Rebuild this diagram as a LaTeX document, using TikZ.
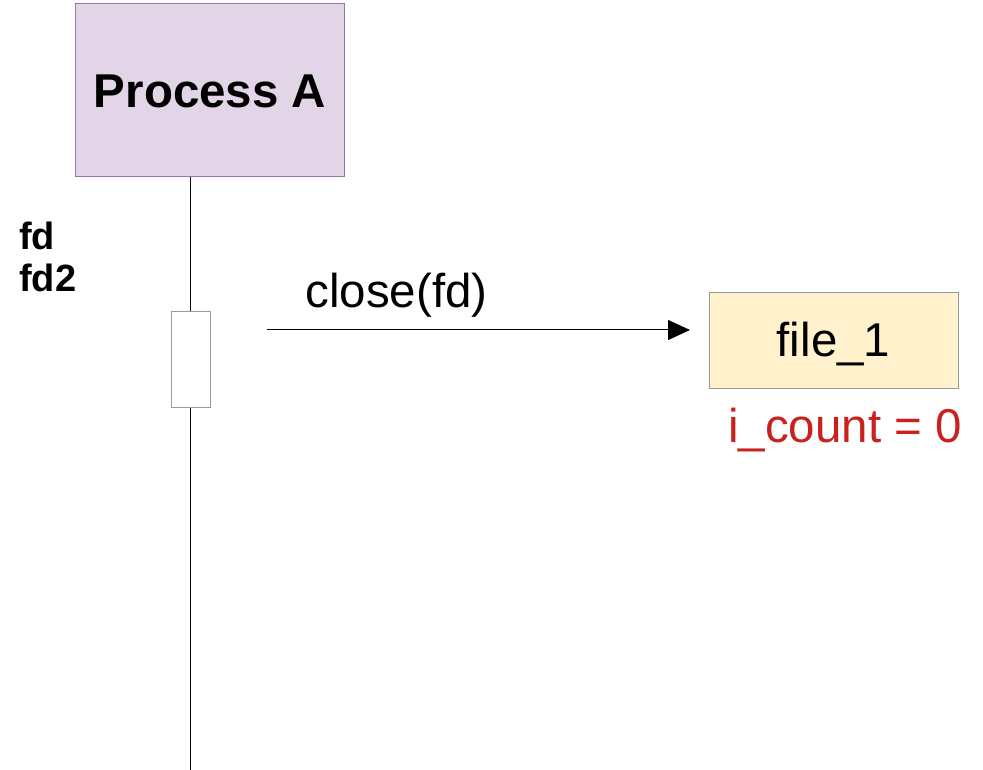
\documentclass[tikz,border=0pt]{standalone}
\usepackage{fontspec}
\setmainfont{Liberation Sans}
\usetikzlibrary{arrows.meta}
\definecolor{procfill}{HTML}{E1D5E7}
\definecolor{procdraw}{HTML}{9673A6}
\definecolor{filefill}{HTML}{FFF2CC}
\definecolor{boxgray}{HTML}{999999}
\definecolor{countred}{HTML}{C9211E}
\begin{document}
\begin{tikzpicture}[x=0.75pt,y=-0.75pt,
  bigtxt/.style={font=\fontsize{35.6}{42}\selectfont},
  boxstyle/.style={line width=0.75pt},
  lifeline/.style={line width=0.75pt, draw=black}]
\useasboundingbox (0,0) rectangle (983,770);
% Process A box
\draw[boxstyle, fill=procfill, draw=procdraw] (75,4) rectangle (344,177);
\node[anchor=base, inner sep=0, font=\bfseries\fontsize{35.6}{42}\selectfont] (pa) at (210,108) {Process A};
\coordinate (ptop) at (190,177);
\coordinate (pbot) at (190,770);
\coordinate (abox1) at (190,311);
\coordinate (abox2) at (190,407);
\draw[lifeline] (ptop) -- (abox1);
\draw[lifeline] (abox2) -- (pbot);
% activation box
\node[draw=boxgray, fill=white, line width=0.75pt, minimum width=39*0.75pt, minimum height=96*0.75pt, inner sep=0, anchor=north west] (act) at (171,311) {};
% fd labels
\node[anchor=base west, inner sep=0, font=\bfseries\fontsize{28.5}{34}\selectfont] (fd) at (19,250) {fd};
\node[anchor=base west, inner sep=0, font=\bfseries\fontsize{28.5}{34}\selectfont] (fd2) at (19,292) {fd2};
% file_1 box
\node[draw=boxgray, fill=filefill, line width=0.75pt, minimum width=249*0.75pt, minimum height=96*0.75pt, inner sep=0, anchor=north west] (file) at (709,292) {};
\node[anchor=base, inner sep=0, bigtxt] (filetxt) at (833.5,357) {file\_1};
\node[anchor=base, inner sep=0, bigtxt, text=countred] (cnt) at (845,442) {i\_count = 0};
% arrow
\coordinate (astart) at (267,330);
\coordinate (aend) at (690,330);
\draw[line width=0.75pt, -{Triangle[length=16.5pt, width=15pt]}] (astart) -- (aend);
\node[anchor=base, inner sep=0, bigtxt] (cl) at (396.5,308) {close(fd)};
\end{tikzpicture}
\end{document}
